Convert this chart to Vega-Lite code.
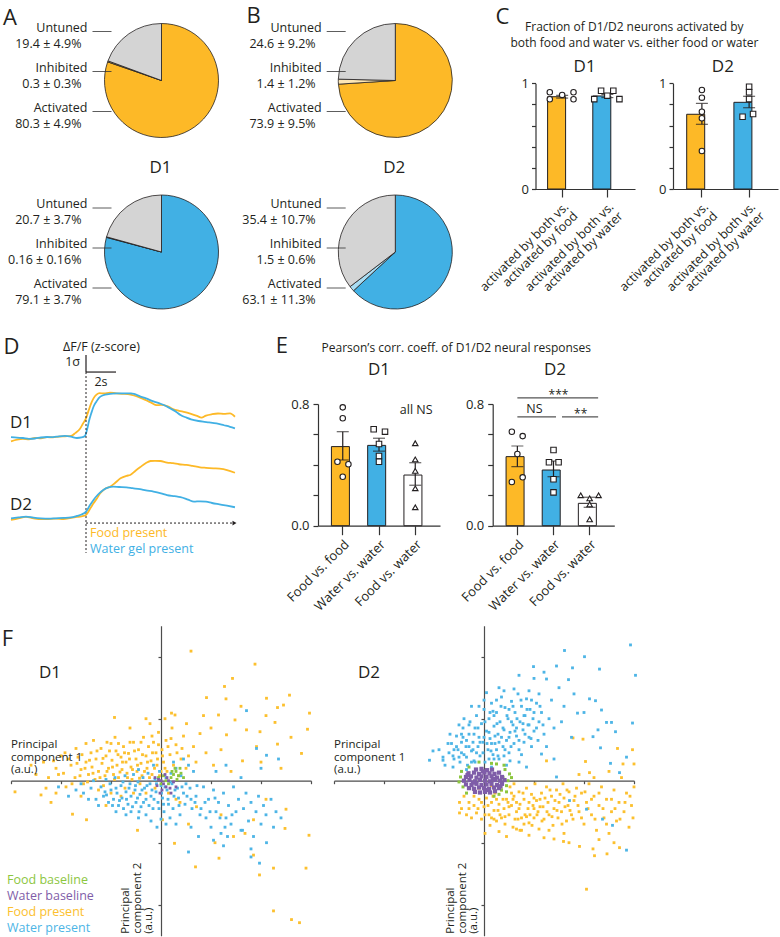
{
"$schema":"https://vega.github.io/schema/vega-lite/v6.json",
"width":780,"height":937,"autosize":"none","padding":0,"background":"white",
"config":{"view":{"stroke":null},"font":"Open Sans",
 "text":{"font":"Open Sans","fontSize":12.5,"color":"#231F20"},
 "axis":{"grid":false,"domainColor":"#333333","tickColor":"#333333","labelColor":"#231F20","labelFont":"Open Sans","labelFontSize":13,"domainWidth":1.2,"tickWidth":1.2}},
"datasets":{
 "traces":[
  {"neuron":"D1","stim":"food","t":-5,"z":-0.2},{"neuron":"D1","stim":"food","t":-4.6,"z":-0.1},{"neuron":"D1","stim":"food","t":-4.2,"z":-0.05},{"neuron":"D1","stim":"food","t":-3.8,"z":-0.08},{"neuron":"D1","stim":"food","t":-3.4,"z":0},{"neuron":"D1","stim":"food","t":-3,"z":-0.02},{"neuron":"D1","stim":"food","t":-2.6,"z":0.05},{"neuron":"D1","stim":"food","t":-2.2,"z":0.04},{"neuron":"D1","stim":"food","t":-1.8,"z":0.08},{"neuron":"D1","stim":"food","t":-1.4,"z":0.1},{"neuron":"D1","stim":"food","t":-1,"z":0.12},{"neuron":"D1","stim":"food","t":-0.7,"z":0.3},{"neuron":"D1","stim":"food","t":-0.4,"z":0.55},{"neuron":"D1","stim":"food","t":-0.2,"z":0.85},{"neuron":"D1","stim":"food","t":0,"z":1.15},{"neuron":"D1","stim":"food","t":0.15,"z":1.55},{"neuron":"D1","stim":"food","t":0.35,"z":2.05},{"neuron":"D1","stim":"food","t":0.5,"z":2.33},{"neuron":"D1","stim":"food","t":0.7,"z":2.55},{"neuron":"D1","stim":"food","t":0.9,"z":2.64},{"neuron":"D1","stim":"food","t":1.2,"z":2.62},{"neuron":"D1","stim":"food","t":1.6,"z":2.67},{"neuron":"D1","stim":"food","t":2,"z":2.63},{"neuron":"D1","stim":"food","t":2.4,"z":2.6},{"neuron":"D1","stim":"food","t":2.8,"z":2.58},{"neuron":"D1","stim":"food","t":3.2,"z":2.5},{"neuron":"D1","stim":"food","t":3.6,"z":2.38},{"neuron":"D1","stim":"food","t":4,"z":2.22},{"neuron":"D1","stim":"food","t":4.4,"z":2.05},{"neuron":"D1","stim":"food","t":4.7,"z":1.93},{"neuron":"D1","stim":"food","t":5,"z":1.95},{"neuron":"D1","stim":"food","t":5.4,"z":1.88},{"neuron":"D1","stim":"food","t":5.8,"z":1.7},{"neuron":"D1","stim":"food","t":6.2,"z":1.6},{"neuron":"D1","stim":"food","t":6.6,"z":1.52},{"neuron":"D1","stim":"food","t":7,"z":1.42},{"neuron":"D1","stim":"food","t":7.4,"z":1.3},{"neuron":"D1","stim":"food","t":7.7,"z":1.2},{"neuron":"D1","stim":"food","t":8,"z":1.32},{"neuron":"D1","stim":"food","t":8.4,"z":1.4},{"neuron":"D1","stim":"food","t":8.8,"z":1.44},{"neuron":"D1","stim":"food","t":9.2,"z":1.42},{"neuron":"D1","stim":"food","t":9.6,"z":1.45},{"neuron":"D1","stim":"food","t":9.93,"z":1.25},
  {"neuron":"D1","stim":"water","t":-5,"z":0.05},{"neuron":"D1","stim":"water","t":-4.6,"z":0.02},{"neuron":"D1","stim":"water","t":-4.2,"z":0},{"neuron":"D1","stim":"water","t":-3.8,"z":-0.05},{"neuron":"D1","stim":"water","t":-3.4,"z":-0.03},{"neuron":"D1","stim":"water","t":-3,"z":0.03},{"neuron":"D1","stim":"water","t":-2.6,"z":0.06},{"neuron":"D1","stim":"water","t":-2.2,"z":0.05},{"neuron":"D1","stim":"water","t":-1.8,"z":0.1},{"neuron":"D1","stim":"water","t":-1.4,"z":0.12},{"neuron":"D1","stim":"water","t":-1,"z":0.08},{"neuron":"D1","stim":"water","t":-0.6,"z":0},{"neuron":"D1","stim":"water","t":-0.3,"z":0.03},{"neuron":"D1","stim":"water","t":-0.07,"z":0.12},{"neuron":"D1","stim":"water","t":0.1,"z":0.6},{"neuron":"D1","stim":"water","t":0.2,"z":1},{"neuron":"D1","stim":"water","t":0.35,"z":1.45},{"neuron":"D1","stim":"water","t":0.5,"z":1.84},{"neuron":"D1","stim":"water","t":0.7,"z":2.15},{"neuron":"D1","stim":"water","t":0.85,"z":2.35},{"neuron":"D1","stim":"water","t":1.1,"z":2.5},{"neuron":"D1","stim":"water","t":1.6,"z":2.59},{"neuron":"D1","stim":"water","t":2,"z":2.62},{"neuron":"D1","stim":"water","t":2.5,"z":2.63},{"neuron":"D1","stim":"water","t":3,"z":2.62},{"neuron":"D1","stim":"water","t":3.2,"z":2.59},{"neuron":"D1","stim":"water","t":3.6,"z":2.45},{"neuron":"D1","stim":"water","t":4,"z":2.33},{"neuron":"D1","stim":"water","t":4.5,"z":2.15},{"neuron":"D1","stim":"water","t":4.9,"z":2.04},{"neuron":"D1","stim":"water","t":5.3,"z":1.9},{"neuron":"D1","stim":"water","t":5.6,"z":1.75},{"neuron":"D1","stim":"water","t":6,"z":1.55},{"neuron":"D1","stim":"water","t":6.3,"z":1.35},{"neuron":"D1","stim":"water","t":6.7,"z":1.2},{"neuron":"D1","stim":"water","t":7,"z":1.1},{"neuron":"D1","stim":"water","t":7.5,"z":1},{"neuron":"D1","stim":"water","t":7.8,"z":0.96},{"neuron":"D1","stim":"water","t":8.2,"z":0.92},{"neuron":"D1","stim":"water","t":8.7,"z":0.86},{"neuron":"D1","stim":"water","t":9.2,"z":0.75},{"neuron":"D1","stim":"water","t":9.6,"z":0.66},{"neuron":"D1","stim":"water","t":9.93,"z":0.57},
  {"neuron":"D2","stim":"food","t":-5,"z":-0.1},{"neuron":"D2","stim":"food","t":-4.5,"z":0},{"neuron":"D2","stim":"food","t":-4,"z":0.08},{"neuron":"D2","stim":"food","t":-3.5,"z":0},{"neuron":"D2","stim":"food","t":-3,"z":-0.05},{"neuron":"D2","stim":"food","t":-2.5,"z":-0.04},{"neuron":"D2","stim":"food","t":-2,"z":-0.02},{"neuron":"D2","stim":"food","t":-1.5,"z":-0.04},{"neuron":"D2","stim":"food","t":-1,"z":0.03},{"neuron":"D2","stim":"food","t":-0.6,"z":0.08},{"neuron":"D2","stim":"food","t":-0.3,"z":0.12},{"neuron":"D2","stim":"food","t":0,"z":0.2},{"neuron":"D2","stim":"food","t":0.3,"z":0.6},{"neuron":"D2","stim":"food","t":0.5,"z":0.88},{"neuron":"D2","stim":"food","t":0.75,"z":1.2},{"neuron":"D2","stim":"food","t":0.95,"z":1.47},{"neuron":"D2","stim":"food","t":1.3,"z":1.75},{"neuron":"D2","stim":"food","t":1.6,"z":1.86},{"neuron":"D2","stim":"food","t":1.9,"z":2.05},{"neuron":"D2","stim":"food","t":2.3,"z":2.35},{"neuron":"D2","stim":"food","t":2.7,"z":2.5},{"neuron":"D2","stim":"food","t":2.95,"z":2.55},{"neuron":"D2","stim":"food","t":3.3,"z":2.8},{"neuron":"D2","stim":"food","t":3.6,"z":3},{"neuron":"D2","stim":"food","t":4,"z":3.25},{"neuron":"D2","stim":"food","t":4.3,"z":3.37},{"neuron":"D2","stim":"food","t":4.6,"z":3.38},{"neuron":"D2","stim":"food","t":4.95,"z":3.37},{"neuron":"D2","stim":"food","t":5.4,"z":3.28},{"neuron":"D2","stim":"food","t":5.8,"z":3.24},{"neuron":"D2","stim":"food","t":6.2,"z":3.18},{"neuron":"D2","stim":"food","t":6.7,"z":3.14},{"neuron":"D2","stim":"food","t":7.1,"z":3.08},{"neuron":"D2","stim":"food","t":7.6,"z":3},{"neuron":"D2","stim":"food","t":8,"z":2.97},{"neuron":"D2","stim":"food","t":8.5,"z":2.94},{"neuron":"D2","stim":"food","t":8.9,"z":2.92},{"neuron":"D2","stim":"food","t":9.4,"z":2.84},{"neuron":"D2","stim":"food","t":9.93,"z":2.68},
  {"neuron":"D2","stim":"water","t":-5,"z":0},{"neuron":"D2","stim":"water","t":-4.5,"z":0.05},{"neuron":"D2","stim":"water","t":-4,"z":0.1},{"neuron":"D2","stim":"water","t":-3.5,"z":0.04},{"neuron":"D2","stim":"water","t":-3,"z":0},{"neuron":"D2","stim":"water","t":-2.5,"z":-0.02},{"neuron":"D2","stim":"water","t":-2,"z":0},{"neuron":"D2","stim":"water","t":-1.5,"z":0.02},{"neuron":"D2","stim":"water","t":-1,"z":0.05},{"neuron":"D2","stim":"water","t":-0.6,"z":0.14},{"neuron":"D2","stim":"water","t":-0.3,"z":0.22},{"neuron":"D2","stim":"water","t":0,"z":0.39},{"neuron":"D2","stim":"water","t":0.25,"z":0.75},{"neuron":"D2","stim":"water","t":0.5,"z":1.08},{"neuron":"D2","stim":"water","t":0.8,"z":1.4},{"neuron":"D2","stim":"water","t":1.15,"z":1.67},{"neuron":"D2","stim":"water","t":1.5,"z":1.82},{"neuron":"D2","stim":"water","t":1.82,"z":1.86},{"neuron":"D2","stim":"water","t":2.2,"z":1.84},{"neuron":"D2","stim":"water","t":2.7,"z":1.82},{"neuron":"D2","stim":"water","t":3.1,"z":1.77},{"neuron":"D2","stim":"water","t":3.6,"z":1.71},{"neuron":"D2","stim":"water","t":4,"z":1.64},{"neuron":"D2","stim":"water","t":4.5,"z":1.57},{"neuron":"D2","stim":"water","t":5,"z":1.47},{"neuron":"D2","stim":"water","t":5.4,"z":1.37},{"neuron":"D2","stim":"water","t":5.9,"z":1.3},{"neuron":"D2","stim":"water","t":6.3,"z":1.24},{"neuron":"D2","stim":"water","t":6.8,"z":1.1},{"neuron":"D2","stim":"water","t":7.2,"z":0.98},{"neuron":"D2","stim":"water","t":7.6,"z":1},{"neuron":"D2","stim":"water","t":8,"z":0.98},{"neuron":"D2","stim":"water","t":8.4,"z":0.9},{"neuron":"D2","stim":"water","t":8.9,"z":0.82},{"neuron":"D2","stim":"water","t":9.4,"z":0.74},{"neuron":"D2","stim":"water","t":9.93,"z":0.65}
 ],
 "f1food":[{"pc1":-1.95,"pc2":0.12},{"pc1":-1.8,"pc2":0.25},{"pc1":-1.72,"pc2":0.05},{"pc1":-1.66,"pc2":0.38},{"pc1":-1.6,"pc2":0.18},{"pc1":-1.55,"pc2":-0.05},{"pc1":-1.5,"pc2":0.3},{"pc1":-1.45,"pc2":0.1},{"pc1":-1.4,"pc2":0.45},{"pc1":-1.38,"pc2":0.22},{"pc1":-1.32,"pc2":0.02},{"pc1":-1.3,"pc2":0.35},{"pc1":-1.25,"pc2":0.15},{"pc1":-1.2,"pc2":0.52},{"pc1":-1.18,"pc2":0.28},{"pc1":-1.12,"pc2":0.08},{"pc1":-1.1,"pc2":0.4},{"pc1":-1.05,"pc2":0.2},{"pc1":-1,"pc2":0.6},{"pc1":-0.98,"pc2":0.33},{"pc1":-0.95,"pc2":0.1},{"pc1":-0.9,"pc2":0.48},{"pc1":-0.88,"pc2":0.25},{"pc1":-0.85,"pc2":0.05},{"pc1":-0.8,"pc2":0.38},{"pc1":-0.78,"pc2":0.18},{"pc1":-0.75,"pc2":0.55},{"pc1":-0.7,"pc2":0.3},{"pc1":-0.68,"pc2":0.12},{"pc1":-0.65,"pc2":0.44},{"pc1":-0.6,"pc2":0.22},{"pc1":-0.58,"pc2":0.02},{"pc1":-0.55,"pc2":0.62},{"pc1":-0.5,"pc2":0.35},{"pc1":-0.48,"pc2":0.15},{"pc1":-0.45,"pc2":0.5},{"pc1":-0.4,"pc2":0.28},{"pc1":-0.38,"pc2":0.08},{"pc1":-0.35,"pc2":0.7},{"pc1":-0.3,"pc2":0.4},{"pc1":-0.28,"pc2":0.2},{"pc1":-0.25,"pc2":0.55},{"pc1":-0.2,"pc2":0.32},{"pc1":-0.18,"pc2":0.1},{"pc1":-0.15,"pc2":0.62},{"pc1":-0.1,"pc2":0.45},{"pc1":-0.08,"pc2":0.25},{"pc1":-0.05,"pc2":0.78},{"pc1":0.02,"pc2":0.5},{"pc1":0.05,"pc2":0.3},{"pc1":0.1,"pc2":0.65},{"pc1":0.12,"pc2":0.15},{"pc1":0.18,"pc2":0.42},{"pc1":0.22,"pc2":0.85},{"pc1":0.25,"pc2":0.25},{"pc1":0.3,"pc2":0.58},{"pc1":0.35,"pc2":0.08},{"pc1":0.4,"pc2":0.35},{"pc1":0.45,"pc2":0.72},{"pc1":0.5,"pc2":0.2},{"pc1":-2.1,"pc2":0.2},{"pc1":-2.25,"pc2":0.05},{"pc1":-2.35,"pc2":0.3},{"pc1":-1.9,"pc2":-0.1},{"pc1":-2,"pc2":0.4},{"pc1":-1.7,"pc2":0.52},{"pc1":-1.35,"pc2":0.65},{"pc1":-1.15,"pc2":-0.08},{"pc1":-0.92,"pc2":0.7},{"pc1":-0.62,"pc2":0.85},{"pc1":-0.42,"pc2":-0.05},{"pc1":-0.22,"pc2":0.92},{"pc1":-0.72,"pc2":-0.12},{"pc1":-1.5,"pc2":0.6},{"pc1":0.08,"pc2":1},{"pc1":-0.3,"pc2":1},{"pc1":-0.55,"pc2":-0.2},{"pc1":-1.25,"pc2":-0.15},{"pc1":-0.12,"pc2":-0.12},{"pc1":0,"pc2":0.15},{"pc1":0.6,"pc2":2.09},{"pc1":1.88,"pc2":1.88},{"pc1":1.43,"pc2":1.65},{"pc1":1.27,"pc2":1.52},{"pc1":0.91,"pc2":1.34},{"pc1":1.3,"pc2":1.32},{"pc1":2.11,"pc2":1.33},{"pc1":2.57,"pc2":1.38},{"pc1":2.45,"pc2":1.22},{"pc1":2.33,"pc2":1.18},{"pc1":2.97,"pc2":1.09},{"pc1":2.93,"pc2":0.83},{"pc1":2.81,"pc2":0.44},{"pc1":2.33,"pc2":0.59},{"pc1":2.28,"pc2":0.94},{"pc1":-0.93,"pc2":1.02},{"pc1":0.21,"pc2":1.09},{"pc1":0.28,"pc2":1.06},{"pc1":0.51,"pc2":0.92},{"pc1":1.15,"pc2":1.06},{"pc1":1.48,"pc2":0.98},{"pc1":1.71,"pc2":0.82},{"pc1":1.98,"pc2":0.79},{"pc1":1.91,"pc2":0.55},{"pc1":1.63,"pc2":0.32},{"pc1":1.31,"pc2":0.74},{"pc1":0.78,"pc2":0.76},{"pc1":0.65,"pc2":0.55},{"pc1":0.9,"pc2":0.45},{"pc1":1.05,"pc2":0.25},{"pc1":1.2,"pc2":0.5},{"pc1":1.4,"pc2":0.15},{"pc1":0.85,"pc2":1.05},{"pc1":1.6,"pc2":1.2},{"pc1":2.1,"pc2":1.05},{"pc1":2.6,"pc2":0.7},{"pc1":2.4,"pc2":0.2},{"pc1":2,"pc2":0.3},{"pc1":0.7,"pc2":0.3},{"pc1":1,"pc2":0.85},{"pc1":-2.92,"pc2":-0.18},{"pc1":-2.4,"pc2":-0.23},{"pc1":-1.77,"pc2":-0.54},{"pc1":-1.49,"pc2":-0.63},{"pc1":-0.47,"pc2":-0.8},{"pc1":0.03,"pc2":-0.63},{"pc1":0.27,"pc2":-1.01},{"pc1":0.69,"pc2":-1.39},{"pc1":1.16,"pc2":-1.25},{"pc1":1.85,"pc2":-1.2},{"pc1":1.97,"pc2":-1.52},{"pc1":2.25,"pc2":-1.41},{"pc1":2.48,"pc2":-0.77},{"pc1":2.5,"pc2":-0.46},{"pc1":2.96,"pc2":-0.88},{"pc1":2.9,"pc2":-1.41},{"pc1":2.25,"pc2":-2.1},{"pc1":2.61,"pc2":-2.24},{"pc1":2.77,"pc2":-2.29},{"pc1":1.68,"pc2":-0.85},{"pc1":1.08,"pc2":-1},{"pc1":1.45,"pc2":-0.9},{"pc1":1.85,"pc2":-0.63},{"pc1":0.38,"pc2":-0.35},{"pc1":0.71,"pc2":-0.42},{"pc1":1.2,"pc2":-0.55},{"pc1":0.55,"pc2":-0.7},{"pc1":-2.2,"pc2":-0.35},{"pc1":-1.1,"pc2":-0.4},{"pc1":2.1,"pc2":-0.3},
  {"pc1":-1.62,"pc2":0.08},{"pc1":-1.58,"pc2":0.42},{"pc1":-1.52,"pc2":0.2},{"pc1":-1.47,"pc2":-0.02},{"pc1":-1.43,"pc2":0.33},{"pc1":-1.36,"pc2":0.12},{"pc1":-1.28,"pc2":0.48},{"pc1":-1.22,"pc2":0.05},{"pc1":-1.16,"pc2":0.36},{"pc1":-1.08,"pc2":0.15},{"pc1":-1.03,"pc2":0.48},{"pc1":-0.97,"pc2":0.22},{"pc1":-0.93,"pc2":0.02},{"pc1":-0.86,"pc2":0.42},{"pc1":-0.82,"pc2":0.14},{"pc1":-0.77,"pc2":0.3},{"pc1":-0.73,"pc2":0.45},{"pc1":-0.67,"pc2":0.05},{"pc1":-0.63,"pc2":0.35},{"pc1":-0.57,"pc2":0.18},{"pc1":-0.53,"pc2":0.48},{"pc1":-0.47,"pc2":0.25},{"pc1":-0.43,"pc2":0.04},{"pc1":-0.37,"pc2":0.42},{"pc1":-0.33,"pc2":0.15},{"pc1":-0.27,"pc2":0.3},{"pc1":-0.23,"pc2":0.05},{"pc1":-0.17,"pc2":0.45},{"pc1":-0.13,"pc2":0.2},{"pc1":-0.07,"pc2":0.35},{"pc1":-0.03,"pc2":0.08},{"pc1":0.03,"pc2":0.4},{"pc1":0.08,"pc2":0.2},{"pc1":0.14,"pc2":0.55},{"pc1":-1.85,"pc2":0.35},{"pc1":-1.78,"pc2":-0.05},{"pc1":-2.05,"pc2":0.1},{"pc1":-2.15,"pc2":0.32},{"pc1":-1.92,"pc2":0.45},{"pc1":-1.68,"pc2":0.28},{"pc1":-0.62,"pc2":0.62},{"pc1":-0.85,"pc2":0.6},{"pc1":-1.08,"pc2":0.62},{"pc1":-0.4,"pc2":0.62},{"pc1":-0.18,"pc2":0.72},{"pc1":-0.05,"pc2":0.58},{"pc1":0.2,"pc2":0.68},{"pc1":0.32,"pc2":0.45},{"pc1":0.42,"pc2":0.52},{"pc1":0.55,"pc2":0.4},{"pc1":-2.5,"pc2":0.1},{"pc1":-2.6,"pc2":0.25},{"pc1":-2.3,"pc2":-0.12},{"pc1":-2.1,"pc2":-0.2},{"pc1":-1.6,"pc2":-0.25},{"pc1":-1,"pc2":-0.2},{"pc1":-0.8,"pc2":-0.25},{"pc1":-0.3,"pc2":-0.2},{"pc1":0.15,"pc2":-0.2},{"pc1":0.3,"pc2":-0.3}],
 "f1water":[{"pc1":-1.2,"pc2":-0.1},{"pc1":-1.15,"pc2":-0.25},{"pc1":-1.1,"pc2":0.02},{"pc1":-1.05,"pc2":-0.35},{"pc1":-1,"pc2":-0.15},{"pc1":-0.95,"pc2":-0.3},{"pc1":-0.92,"pc2":0.05},{"pc1":-0.88,"pc2":-0.2},{"pc1":-0.85,"pc2":-0.4},{"pc1":-0.8,"pc2":-0.08},{"pc1":-0.78,"pc2":-0.28},{"pc1":-0.72,"pc2":0.08},{"pc1":-0.7,"pc2":-0.18},{"pc1":-0.66,"pc2":-0.38},{"pc1":-0.62,"pc2":-0.05},{"pc1":-0.6,"pc2":-0.25},{"pc1":-0.55,"pc2":0.1},{"pc1":-0.52,"pc2":-0.15},{"pc1":-0.5,"pc2":-0.35},{"pc1":-0.46,"pc2":-0.02},{"pc1":-0.42,"pc2":-0.22},{"pc1":-0.4,"pc2":-0.42},{"pc1":-0.36,"pc2":0.05},{"pc1":-0.33,"pc2":-0.12},{"pc1":-0.3,"pc2":-0.3},{"pc1":-0.26,"pc2":0.12},{"pc1":-0.22,"pc2":-0.05},{"pc1":-0.2,"pc2":-0.25},{"pc1":-0.16,"pc2":-0.45},{"pc1":-0.12,"pc2":0.02},{"pc1":-0.1,"pc2":-0.18},{"pc1":-0.06,"pc2":-0.35},{"pc1":-0.03,"pc2":0.15},{"pc1":0,"pc2":-0.08},{"pc1":0.03,"pc2":-0.28},{"pc1":0.06,"pc2":-0.5},{"pc1":0.1,"pc2":0.05},{"pc1":0.12,"pc2":-0.15},{"pc1":0.15,"pc2":-0.38},{"pc1":0.2,"pc2":0.12},{"pc1":0.22,"pc2":-0.05},{"pc1":0.26,"pc2":-0.25},{"pc1":0.3,"pc2":0.2},{"pc1":0.33,"pc2":-0.12},{"pc1":0.36,"pc2":-0.4},{"pc1":0.4,"pc2":0.08},{"pc1":0.45,"pc2":-0.2},{"pc1":0.5,"pc2":-0.05},{"pc1":0.55,"pc2":0.25},{"pc1":0.6,"pc2":-0.3},{"pc1":-1.4,"pc2":-0.12},{"pc1":-1.55,"pc2":-0.2},{"pc1":-1.3,"pc2":-0.3},{"pc1":-1.35,"pc2":0},{"pc1":-0.9,"pc2":-0.5},{"pc1":-0.6,"pc2":-0.5},{"pc1":-0.3,"pc2":-0.55},{"pc1":0,"pc2":-0.62},{"pc1":0.25,"pc2":0.3},{"pc1":0.45,"pc2":0.35},{"pc1":-0.15,"pc2":0.25},{"pc1":-0.45,"pc2":0.18},{"pc1":-0.75,"pc2":-0.45},{"pc1":-1.7,"pc2":-0.15},{"pc1":-1.85,"pc2":-0.25},{"pc1":-2.05,"pc2":-0.1},{"pc1":0.18,"pc2":-0.6},{"pc1":-0.08,"pc2":-0.75},{"pc1":0.38,"pc2":-0.55},{"pc1":0.65,"pc2":0.15},{"pc1":0.7,"pc2":-0.25},{"pc1":0.8,"pc2":-0.45},{"pc1":0.85,"pc2":-0.1},{"pc1":0.9,"pc2":-0.6},{"pc1":0.95,"pc2":-0.3},{"pc1":1,"pc2":-0.75},{"pc1":1.05,"pc2":-0.15},{"pc1":1.1,"pc2":-0.5},{"pc1":1.15,"pc2":-0.35},{"pc1":1.2,"pc2":-0.85},{"pc1":1.25,"pc2":-0.2},{"pc1":1.3,"pc2":-0.6},{"pc1":1.35,"pc2":-0.4},{"pc1":1.4,"pc2":-0.7},{"pc1":1.45,"pc2":-0.1},{"pc1":1.5,"pc2":-0.5},{"pc1":1.55,"pc2":-0.3},{"pc1":1.6,"pc2":-0.8},{"pc1":1.65,"pc2":-0.45},{"pc1":1.7,"pc2":-0.2},{"pc1":1.75,"pc2":-0.65},{"pc1":1.8,"pc2":-0.35},{"pc1":1.85,"pc2":-0.9},{"pc1":1.9,"pc2":-0.5},{"pc1":1.95,"pc2":-0.25},{"pc1":2,"pc2":-0.7},{"pc1":2.05,"pc2":-0.4},{"pc1":2.1,"pc2":-0.55},{"pc1":2.2,"pc2":-0.3},{"pc1":2.25,"pc2":-0.75},{"pc1":2.3,"pc2":-0.5},{"pc1":2.4,"pc2":-0.6},{"pc1":1.1,"pc2":0.15},{"pc1":1.3,"pc2":0.25},{"pc1":1.6,"pc2":0.05},{"pc1":0.75,"pc2":-0.9},{"pc1":0.6,"pc2":-0.75},{"pc1":1.25,"pc2":-1.05},{"pc1":1.8,"pc2":-1.1},{"pc1":1.71,"pc2":1.13},{"pc1":1.91,"pc2":0.52},{"pc1":2.11,"pc2":0.41},{"pc1":0.55,"pc2":-1.15},{"pc1":1.05,"pc2":-0.96},{"pc1":1.33,"pc2":-0.9},{"pc1":1.97,"pc2":-1.33},{"pc1":1.8,"pc2":-1.23},{"pc1":2.11,"pc2":-1},{"pc1":1.63,"pc2":-0.8},{"pc1":-1.09,"pc2":-0.23},{"pc1":2.35,"pc2":0.35},{"pc1":2,"pc2":0.2},
  {"pc1":-1.12,"pc2":-0.18},{"pc1":-1.02,"pc2":-0.05},{"pc1":-0.97,"pc2":-0.4},{"pc1":-0.9,"pc2":-0.12},{"pc1":-0.83,"pc2":-0.32},{"pc1":-0.76,"pc2":-0.02},{"pc1":-0.69,"pc2":-0.3},{"pc1":-0.64,"pc2":-0.12},{"pc1":-0.57,"pc2":-0.42},{"pc1":-0.51,"pc2":-0.08},{"pc1":-0.47,"pc2":-0.28},{"pc1":-0.44,"pc2":-0.5},{"pc1":-0.38,"pc2":-0.15},{"pc1":-0.35,"pc2":-0.35},{"pc1":-0.28,"pc2":-0.08},{"pc1":-0.24,"pc2":-0.4},{"pc1":-0.18,"pc2":-0.15},{"pc1":-0.14,"pc2":-0.3},{"pc1":-0.09,"pc2":-0.05},{"pc1":-0.04,"pc2":-0.45},{"pc1":0.01,"pc2":-0.2},{"pc1":0.05,"pc2":-0.38},{"pc1":0.08,"pc2":-0.1},{"pc1":0.14,"pc2":-0.3},{"pc1":0.18,"pc2":-0.02},{"pc1":0.24,"pc2":-0.45},{"pc1":0.28,"pc2":-0.15},{"pc1":0.35,"pc2":-0.28},{"pc1":0.42,"pc2":-0.1},{"pc1":0.48,"pc2":-0.38},{"pc1":0.52,"pc2":-0.25},{"pc1":0.58,"pc2":-0.12},{"pc1":0.62,"pc2":-0.45},{"pc1":0.68,"pc2":-0.35},{"pc1":0.72,"pc2":-0.08},{"pc1":0.78,"pc2":-0.55},{"pc1":0.88,"pc2":-0.35},{"pc1":0.98,"pc2":-0.5},{"pc1":1.08,"pc2":-0.28},{"pc1":1.18,"pc2":-0.6},{"pc1":-1.25,"pc2":-0.4},{"pc1":-1.45,"pc2":-0.3},{"pc1":-1.6,"pc2":-0.05},{"pc1":-0.7,"pc2":-0.55},{"pc1":-0.45,"pc2":-0.6},{"pc1":-0.2,"pc2":-0.65},{"pc1":0.1,"pc2":-0.7},{"pc1":0.3,"pc2":-0.7},{"pc1":1.42,"pc2":-0.55},{"pc1":1.28,"pc2":-0.75}],
 "f1fb":[{"pc1":0.25,"pc2":0.1},{"pc1":0.3,"pc2":0.15},{"pc1":0.35,"pc2":0.08},{"pc1":0.4,"pc2":0.12},{"pc1":0.28,"pc2":0.2},{"pc1":0.2,"pc2":0.05},{"pc1":0.1,"pc2":0},{"pc1":0.05,"pc2":0.08},{"pc1":-0.05,"pc2":0.05},{"pc1":0.15,"pc2":-0.05},{"pc1":0.32,"pc2":0.02},{"pc1":0.38,"pc2":0.2},{"pc1":0.45,"pc2":0.05},{"pc1":0.22,"pc2":0.15},{"pc1":0,"pc2":-0.05}],
 "f1wb":[{"pc1":0,"pc2":0},{"pc1":0.05,"pc2":-0.05},{"pc1":-0.05,"pc2":0.02},{"pc1":0.1,"pc2":-0.1},{"pc1":0.12,"pc2":0.05},{"pc1":-0.08,"pc2":-0.08},{"pc1":0.18,"pc2":-0.12},{"pc1":0.25,"pc2":-0.02},{"pc1":0.08,"pc2":0.1},{"pc1":0.02,"pc2":-0.15},{"pc1":0.15,"pc2":0},{"pc1":-0.12,"pc2":0.05},{"pc1":0.2,"pc2":-0.2},{"pc1":0.3,"pc2":-0.1},{"pc1":-0.02,"pc2":-0.2}],
 "f2water":[{"pc1":-0.7,"pc2":0.45},{"pc1":-0.65,"pc2":0.6},{"pc1":-0.6,"pc2":0.35},{"pc1":-0.55,"pc2":0.72},{"pc1":-0.52,"pc2":0.5},{"pc1":-0.48,"pc2":0.3},{"pc1":-0.45,"pc2":0.62},{"pc1":-0.42,"pc2":0.85},{"pc1":-0.4,"pc2":0.42},{"pc1":-0.36,"pc2":0.55},{"pc1":-0.33,"pc2":0.25},{"pc1":-0.3,"pc2":0.75},{"pc1":-0.28,"pc2":0.95},{"pc1":-0.25,"pc2":0.48},{"pc1":-0.22,"pc2":0.62},{"pc1":-0.2,"pc2":0.32},{"pc1":-0.18,"pc2":0.85},{"pc1":-0.15,"pc2":1.05},{"pc1":-0.12,"pc2":0.55},{"pc1":-0.1,"pc2":0.7},{"pc1":-0.08,"pc2":0.4},{"pc1":-0.05,"pc2":0.92},{"pc1":-0.02,"pc2":0.62},{"pc1":0,"pc2":1.15},{"pc1":0.02,"pc2":0.3},{"pc1":0.05,"pc2":0.8},{"pc1":0.08,"pc2":0.5},{"pc1":0.1,"pc2":1},{"pc1":0.12,"pc2":0.68},{"pc1":0.15,"pc2":1.25},{"pc1":0.18,"pc2":0.42},{"pc1":0.2,"pc2":0.88},{"pc1":0.22,"pc2":0.6},{"pc1":0.25,"pc2":1.1},{"pc1":0.28,"pc2":0.75},{"pc1":0.3,"pc2":0.35},{"pc1":0.32,"pc2":0.95},{"pc1":0.35,"pc2":1.35},{"pc1":0.38,"pc2":0.55},{"pc1":0.4,"pc2":0.82},{"pc1":0.42,"pc2":1.18},{"pc1":0.45,"pc2":0.65},{"pc1":0.48,"pc2":1},{"pc1":0.5,"pc2":0.45},{"pc1":0.52,"pc2":0.78},{"pc1":0.55,"pc2":1.28},{"pc1":0.58,"pc2":0.9},{"pc1":0.6,"pc2":0.6},{"pc1":0.62,"pc2":1.1},{"pc1":0.65,"pc2":0.72},{"pc1":0.68,"pc2":1.4},{"pc1":0.7,"pc2":0.5},{"pc1":0.72,"pc2":0.95},{"pc1":0.75,"pc2":1.2},{"pc1":0.78,"pc2":0.82},{"pc1":0.8,"pc2":0.62},{"pc1":0.82,"pc2":1.05},{"pc1":0.85,"pc2":1.32},{"pc1":0.88,"pc2":0.9},{"pc1":0.9,"pc2":0.7},{"pc1":0.92,"pc2":1.15},{"pc1":0.95,"pc2":0.55},{"pc1":0.98,"pc2":1},{"pc1":1,"pc2":0.8},{"pc1":1.05,"pc2":1.25},{"pc1":1.08,"pc2":0.65},{"pc1":1.1,"pc2":0.95},{"pc1":1.15,"pc2":1.1},{"pc1":1.2,"pc2":0.75},{"pc1":-0.82,"pc2":0.38},{"pc1":-0.9,"pc2":0.5},{"pc1":-0.78,"pc2":0.25},{"pc1":-0.62,"pc2":0.22},{"pc1":-0.35,"pc2":0.18},{"pc1":-0.05,"pc2":0.2},{"pc1":0.15,"pc2":0.22},{"pc1":-0.4,"pc2":1},{"pc1":-0.1,"pc2":1.2},{"pc1":0.3,"pc2":1.5},{"pc1":0.6,"pc2":1.48},{"pc1":0.9,"pc2":1.45},{"pc1":0.05,"pc2":1.42},{"pc1":-0.25,"pc2":1.2},{"pc1":0.45,"pc2":0.25},{"pc1":0.7,"pc2":0.3},{"pc1":1.3,"pc2":1},{"pc1":1.25,"pc2":0.55},{"pc1":1.35,"pc2":1.3},{"pc1":1.4,"pc2":0.85},{"pc1":-0.5,"pc2":0.9},{"pc1":-0.68,"pc2":0.75},{"pc1":0.25,"pc2":0.5},{"pc1":0.1,"pc2":0.35},{"pc1":-0.15,"pc2":0.45},{"pc1":0.35,"pc2":0.7},{"pc1":0.55,"pc2":0.95},{"pc1":0.15,"pc2":0.6},{"pc1":-0.3,"pc2":0.55},{"pc1":0.5,"pc2":1.15},{"pc1":0.8,"pc2":1.05},{"pc1":0.2,"pc2":1.05},{"pc1":-0.2,"pc2":0.75},{"pc1":0.65,"pc2":0.85},{"pc1":0.4,"pc2":0.4},{"pc1":0,"pc2":0.7},{"pc1":-0.45,"pc2":0.45},{"pc1":0.95,"pc2":1.3},{"pc1":1.1,"pc2":1.4},{"pc1":0.25,"pc2":1.3},{"pc1":-0.55,"pc2":0.55},{"pc1":2.93,"pc2":2.19},{"pc1":3.03,"pc2":1.7},{"pc1":1.61,"pc2":2.1},{"pc1":2.01,"pc2":2},{"pc1":0.99,"pc2":1.84},{"pc1":2.31,"pc2":1.8},{"pc1":1.77,"pc2":1.82},{"pc1":1.25,"pc2":1.64},{"pc1":1.69,"pc2":1.63},{"pc1":2.11,"pc2":1.32},{"pc1":2.23,"pc2":1.29},{"pc1":2.35,"pc2":1.14},{"pc1":1.87,"pc2":1.09},{"pc1":2.45,"pc2":0.94},{"pc1":2.55,"pc2":0.94},{"pc1":2.97,"pc2":0.93},{"pc1":2.63,"pc2":0.79},{"pc1":2.28,"pc2":0.82},{"pc1":2.18,"pc2":0.71},{"pc1":2.33,"pc2":0.53},{"pc1":2.85,"pc2":0.38},{"pc1":2.53,"pc2":0.28},{"pc1":2.71,"pc2":0.13},{"pc1":1.45,"pc2":0.06},{"pc1":1.71,"pc2":-0.32},{"pc1":2.05,"pc2":-0.46},{"pc1":2.37,"pc2":-0.62},{"pc1":2.57,"pc2":-0.72},{"pc1":2.85,"pc2":-1.12},{"pc1":-1.09,"pc2":0.33},{"pc1":-1.02,"pc2":0.48},{"pc1":-0.82,"pc2":0.33},{"pc1":1.15,"pc2":0.43},{"pc1":0.85,"pc2":0.22},{"pc1":1.5,"pc2":1.5},{"pc1":1.6,"pc2":1.2},{"pc1":1.8,"pc2":1.4},{"pc1":1.45,"pc2":1.85},{"pc1":1,"pc2":1.65},{"pc1":0.7,"pc2":1.7},{"pc1":1.55,"pc2":0.95},{"pc1":1.75,"pc2":0.7},{"pc1":2,"pc2":1.1},{"pc1":1.4,"pc2":0.35},{"pc1":1.2,"pc2":1.75},
  {"pc1":-0.6,"pc2":0.5},{"pc1":-0.5,"pc2":0.38},{"pc1":-0.42,"pc2":0.7},{"pc1":-0.35,"pc2":0.38},{"pc1":-0.3,"pc2":0.9},{"pc1":-0.22,"pc2":0.5},{"pc1":-0.18,"pc2":0.3},{"pc1":-0.12,"pc2":0.85},{"pc1":-0.08,"pc2":0.62},{"pc1":-0.02,"pc2":0.45},{"pc1":0.02,"pc2":0.95},{"pc1":0.06,"pc2":0.6},{"pc1":0.1,"pc2":0.78},{"pc1":0.14,"pc2":0.48},{"pc1":0.18,"pc2":1.12},{"pc1":0.22,"pc2":0.72},{"pc1":0.26,"pc2":0.92},{"pc1":0.3,"pc2":0.62},{"pc1":0.34,"pc2":1.2},{"pc1":0.38,"pc2":0.85},{"pc1":0.42,"pc2":0.5},{"pc1":0.46,"pc2":1.05},{"pc1":0.5,"pc2":0.7},{"pc1":0.54,"pc2":0.55},{"pc1":0.58,"pc2":1.2},{"pc1":0.62,"pc2":0.8},{"pc1":0.66,"pc2":1},{"pc1":0.7,"pc2":0.65},{"pc1":0.74,"pc2":1.3},{"pc1":0.78,"pc2":0.92},{"pc1":0.82,"pc2":0.75},{"pc1":0.86,"pc2":1.15},{"pc1":0.9,"pc2":0.9},{"pc1":0.94,"pc2":0.68},{"pc1":1,"pc2":1.1},{"pc1":1.05,"pc2":0.85},{"pc1":1.12,"pc2":1.2},{"pc1":1.18,"pc2":0.9},{"pc1":-0.72,"pc2":0.6},{"pc1":-0.62,"pc2":0.4},{"pc1":0,"pc2":1.3},{"pc1":0.4,"pc2":1.45},{"pc1":-0.35,"pc2":0.65},{"pc1":0.12,"pc2":1.1},{"pc1":0.28,"pc2":0.4},{"pc1":0.52,"pc2":0.32},{"pc1":0.75,"pc2":0.42},{"pc1":-0.25,"pc2":0.3},{"pc1":-0.45,"pc2":0.75},{"pc1":0.2,"pc2":0.35}],
 "f2food":[{"pc1":-0.45,"pc2":-0.45},{"pc1":-0.35,"pc2":-0.55},{"pc1":-0.3,"pc2":-0.35},{"pc1":-0.25,"pc2":-0.6},{"pc1":-0.2,"pc2":-0.4},{"pc1":-0.15,"pc2":-0.52},{"pc1":-0.1,"pc2":-0.3},{"pc1":-0.05,"pc2":-0.62},{"pc1":0,"pc2":-0.42},{"pc1":0.05,"pc2":-0.28},{"pc1":0.1,"pc2":-0.55},{"pc1":0.12,"pc2":-0.72},{"pc1":0.15,"pc2":-0.35},{"pc1":0.2,"pc2":-0.48},{"pc1":0.22,"pc2":-0.2},{"pc1":0.25,"pc2":-0.65},{"pc1":0.3,"pc2":-0.38},{"pc1":0.32,"pc2":-0.55},{"pc1":0.35,"pc2":-0.15},{"pc1":0.4,"pc2":-0.45},{"pc1":0.42,"pc2":-0.7},{"pc1":0.45,"pc2":-0.3},{"pc1":0.5,"pc2":-0.55},{"pc1":0.52,"pc2":-0.1},{"pc1":0.55,"pc2":-0.4},{"pc1":0.58,"pc2":-0.75},{"pc1":0.6,"pc2":-0.25},{"pc1":0.65,"pc2":-0.5},{"pc1":0.68,"pc2":-0.62},{"pc1":0.7,"pc2":-0.18},{"pc1":0.72,"pc2":-0.38},{"pc1":0.75,"pc2":-0.8},{"pc1":0.8,"pc2":-0.3},{"pc1":0.82,"pc2":-0.55},{"pc1":0.85,"pc2":-0.12},{"pc1":0.88,"pc2":-0.45},{"pc1":0.9,"pc2":-0.68},{"pc1":0.95,"pc2":-0.22},{"pc1":0.98,"pc2":-0.4},{"pc1":1,"pc2":-0.6},{"pc1":1.02,"pc2":-0.05},{"pc1":1.05,"pc2":-0.32},{"pc1":1.08,"pc2":-0.5},{"pc1":1.1,"pc2":-0.78},{"pc1":1.15,"pc2":-0.2},{"pc1":1.18,"pc2":-0.42},{"pc1":1.2,"pc2":-0.62},{"pc1":1.25,"pc2":-0.1},{"pc1":1.28,"pc2":-0.35},{"pc1":1.3,"pc2":-0.55},{"pc1":1.35,"pc2":-0.25},{"pc1":1.38,"pc2":-0.72},{"pc1":1.4,"pc2":-0.45},{"pc1":1.45,"pc2":-0.15},{"pc1":1.48,"pc2":-0.6},{"pc1":1.5,"pc2":-0.35},{"pc1":1.55,"pc2":-0.5},{"pc1":1.58,"pc2":-0.05},{"pc1":1.6,"pc2":-0.28},{"pc1":1.65,"pc2":-0.65},{"pc1":1.68,"pc2":-0.4},{"pc1":1.7,"pc2":-0.18},{"pc1":1.75,"pc2":-0.55},{"pc1":1.8,"pc2":-0.32},{"pc1":1.85,"pc2":-0.12},{"pc1":0.15,"pc2":-0.08},{"pc1":0.6,"pc2":-0.05},{"pc1":-0.1,"pc2":-0.12},{"pc1":0.3,"pc2":-0.82},{"pc1":0.9,"pc2":-0.88},{"pc1":1.6,"pc2":-0.85},{"pc1":0.45,"pc2":-0.9},{"pc1":1.2,"pc2":-0.92},{"pc1":-0.4,"pc2":-0.25},{"pc1":0.02,"pc2":-0.85},{"pc1":0.75,"pc2":-0.6},{"pc1":0.55,"pc2":-0.2},{"pc1":1,"pc2":-0.45},{"pc1":0.35,"pc2":-0.6},{"pc1":0.15,"pc2":-0.6},{"pc1":1.3,"pc2":-0.8},{"pc1":0.8,"pc2":-0.7},{"pc1":0.65,"pc2":-0.35},{"pc1":1.12,"pc2":-0.3},{"pc1":0.25,"pc2":-0.3},{"pc1":0.48,"pc2":-0.35},{"pc1":0.92,"pc2":-0.55},{"pc1":1.9,"pc2":-0.5},{"pc1":1.95,"pc2":-0.2},{"pc1":2,"pc2":-0.7},{"pc1":2.05,"pc2":-0.35},{"pc1":2.1,"pc2":-0.05},{"pc1":2.15,"pc2":-0.55},{"pc1":2.2,"pc2":-0.25},{"pc1":2.25,"pc2":-0.8},{"pc1":2.3,"pc2":-0.4},{"pc1":2.35,"pc2":-0.1},{"pc1":2.4,"pc2":-0.6},{"pc1":2.45,"pc2":-0.3},{"pc1":2.5,"pc2":-0.85},{"pc1":2.55,"pc2":-0.5},{"pc1":2.6,"pc2":-0.15},{"pc1":2.65,"pc2":-0.65},{"pc1":2.7,"pc2":-0.35},{"pc1":2.75,"pc2":0.05},{"pc1":2.8,"pc2":-0.5},{"pc1":2.85,"pc2":-0.2},{"pc1":2.9,"pc2":-0.75},{"pc1":2.95,"pc2":-0.4},{"pc1":3,"pc2":-0.1},{"pc1":2.98,"pc2":-0.6},{"pc1":1.9,"pc2":0.1},{"pc1":2.2,"pc2":0.05},{"pc1":2.5,"pc2":0.15},{"pc1":1.78,"pc2":0.69},{"pc1":1.98,"pc2":0.67},{"pc1":2.67,"pc2":0.52},{"pc1":2.97,"pc2":0.5},{"pc1":2.03,"pc2":0.31},{"pc1":2.78,"pc2":0.27},{"pc1":3,"pc2":0.27},{"pc1":1.25,"pc2":0.32},{"pc1":2.11,"pc2":0.13},{"pc1":2.05,"pc2":-1.75},{"pc1":1.59,"pc2":-0.98},{"pc1":1.4,"pc2":-0.94},{"pc1":1.91,"pc2":-1.06},{"pc1":2.18,"pc2":-1.1},{"pc1":2.71,"pc2":-1.08},{"pc1":2.21,"pc2":-1.21},{"pc1":2.46,"pc2":-1.18},{"pc1":-0.49,"pc2":-0.35},{"pc1":-0.49,"pc2":-0.52},{"pc1":0.65,"pc2":-0.78},{"pc1":0.72,"pc2":-0.8},{"pc1":2.3,"pc2":-0.95},{"pc1":2.6,"pc2":-1},{"pc1":1.7,"pc2":-1},
  {"pc1":-0.3,"pc2":-0.45},{"pc1":-0.2,"pc2":-0.25},{"pc1":-0.12,"pc2":-0.45},{"pc1":-0.05,"pc2":-0.35},{"pc1":0.02,"pc2":-0.55},{"pc1":0.08,"pc2":-0.4},{"pc1":0.18,"pc2":-0.25},{"pc1":0.2,"pc2":-0.62},{"pc1":0.28,"pc2":-0.48},{"pc1":0.38,"pc2":-0.3},{"pc1":0.42,"pc2":-0.58},{"pc1":0.5,"pc2":-0.42},{"pc1":0.58,"pc2":-0.3},{"pc1":0.62,"pc2":-0.62},{"pc1":0.7,"pc2":-0.45},{"pc1":0.78,"pc2":-0.2},{"pc1":0.85,"pc2":-0.58},{"pc1":0.9,"pc2":-0.35},{"pc1":0.96,"pc2":-0.72},{"pc1":1,"pc2":-0.28},{"pc1":1.06,"pc2":-0.55},{"pc1":1.12,"pc2":-0.42},{"pc1":1.16,"pc2":-0.65},{"pc1":1.22,"pc2":-0.28},{"pc1":1.26,"pc2":-0.5},{"pc1":1.32,"pc2":-0.15},{"pc1":1.36,"pc2":-0.58},{"pc1":1.42,"pc2":-0.32},{"pc1":1.46,"pc2":-0.48},{"pc1":1.52,"pc2":-0.22},{"pc1":1.56,"pc2":-0.7},{"pc1":1.62,"pc2":-0.42},{"pc1":1.66,"pc2":-0.15},{"pc1":1.72,"pc2":-0.48},{"pc1":1.78,"pc2":-0.62},{"pc1":1.82,"pc2":-0.25},{"pc1":1.88,"pc2":-0.4},{"pc1":1.95,"pc2":-0.6},{"pc1":2.02,"pc2":-0.18},{"pc1":2.08,"pc2":-0.45},{"pc1":2.15,"pc2":-0.3},{"pc1":2.22,"pc2":-0.62},{"pc1":2.3,"pc2":-0.2},{"pc1":2.38,"pc2":-0.45},{"pc1":2.45,"pc2":-0.7},{"pc1":2.55,"pc2":-0.3},{"pc1":2.62,"pc2":-0.45},{"pc1":2.72,"pc2":-0.62},{"pc1":2.82,"pc2":-0.35},{"pc1":2.92,"pc2":-0.25}],
 "f2fb":[{"pc1":-0.47,"pc2":0.06},{"pc1":0.38,"pc2":0.05},{"pc1":0.25,"pc2":0.27},{"pc1":0.51,"pc2":0.11},{"pc1":-0.42,"pc2":-0.1},{"pc1":-0.45,"pc2":0.15},{"pc1":0.45,"pc2":-0.08},{"pc1":0.42,"pc2":0.18},{"pc1":0.3,"pc2":-0.22},{"pc1":-0.3,"pc2":0.22},{"pc1":-0.35,"pc2":-0.2},{"pc1":0.15,"pc2":0.28},{"pc1":0.48,"pc2":0},{"pc1":-0.5,"pc2":-0.02},{"pc1":0.35,"pc2":-0.15},{"pc1":0.2,"pc2":-0.25},{"pc1":-0.1,"pc2":0.3},{"pc1":0.55,"pc2":0.05},{"pc1":0.4,"pc2":0.25},{"pc1":0.45,"pc2":-0.18}],
 "f2wb":[{"pc1":-0.16,"pc2":0.18},{"pc1":-0.05,"pc2":0.19},{"pc1":0.06,"pc2":0.17},{"pc1":0.16,"pc2":0.18},{"pc1":-0.31,"pc2":0.12},{"pc1":-0.2,"pc2":0.13},{"pc1":-0.1,"pc2":0.11},{"pc1":0.01,"pc2":0.13},{"pc1":0.11,"pc2":0.12},{"pc1":0.21,"pc2":0.11},{"pc1":0.3,"pc2":0.13},{"pc1":-0.36,"pc2":0.06},{"pc1":-0.26,"pc2":0.07},{"pc1":-0.15,"pc2":0.05},{"pc1":-0.05,"pc2":0.07},{"pc1":0.05,"pc2":0.06},{"pc1":0.15,"pc2":0.07},{"pc1":0.26,"pc2":0.05},{"pc1":0.36,"pc2":0.06},{"pc1":-0.4,"pc2":0},{"pc1":-0.29,"pc2":0.01},{"pc1":-0.18,"pc2":-0.01},{"pc1":-0.08,"pc2":0.01},{"pc1":0.02,"pc2":0},{"pc1":0.12,"pc2":-0.01},{"pc1":0.22,"pc2":0.01},{"pc1":0.32,"pc2":0},{"pc1":0.41,"pc2":0.01},{"pc1":-0.36,"pc2":-0.06},{"pc1":-0.25,"pc2":-0.07},{"pc1":-0.15,"pc2":-0.05},{"pc1":-0.05,"pc2":-0.07},{"pc1":0.05,"pc2":-0.06},{"pc1":0.15,"pc2":-0.05},{"pc1":0.26,"pc2":-0.07},{"pc1":0.36,"pc2":-0.05},{"pc1":-0.3,"pc2":-0.12},{"pc1":-0.2,"pc2":-0.13},{"pc1":-0.1,"pc2":-0.11},{"pc1":0,"pc2":-0.12},{"pc1":0.1,"pc2":-0.13},{"pc1":0.2,"pc2":-0.11},{"pc1":0.3,"pc2":-0.12},{"pc1":-0.18,"pc2":-0.18},{"pc1":-0.08,"pc2":-0.19},{"pc1":0.02,"pc2":-0.18},{"pc1":0.12,"pc2":-0.19},{"pc1":0.22,"pc2":-0.17},{"pc1":-0.33,"pc2":0.09},{"pc1":0.33,"pc2":-0.09},{"pc1":-0.22,"pc2":-0.03},{"pc1":0.18,"pc2":0.03},{"pc1":-0.02,"pc2":0.15},{"pc1":0.07,"pc2":-0.15}]
},
"resolve":{"scale":{"x":"independent","y":"independent","color":"independent","theta":"independent","shape":"independent","xOffset":"independent"},"axis":{"x":"independent","y":"independent"},"legend":{"color":"independent","shape":"independent"}},
"layer":[
 {
  "data":{"values":[
   {"neuron":"D1","stim":"food","cat":"Activated","pct":80.3},{"neuron":"D1","stim":"food","cat":"Inhibited","pct":0.3},{"neuron":"D1","stim":"food","cat":"Untuned","pct":19.4},
   {"neuron":"D2","stim":"food","cat":"Activated","pct":73.9},{"neuron":"D2","stim":"food","cat":"Inhibited","pct":1.4},{"neuron":"D2","stim":"food","cat":"Untuned","pct":24.6},
   {"neuron":"D1","stim":"water","cat":"Activated","pct":79.1},{"neuron":"D1","stim":"water","cat":"Inhibited","pct":0.16},{"neuron":"D1","stim":"water","cat":"Untuned","pct":20.7},
   {"neuron":"D2","stim":"water","cat":"Activated","pct":63.1},{"neuron":"D2","stim":"water","cat":"Inhibited","pct":1.5},{"neuron":"D2","stim":"water","cat":"Untuned","pct":35.4}]},
  "transform":[{"stack":"pct","groupby":["neuron","stim"],"sort":[{"field":"cat","order":"ascending"}],"offset":"normalize","as":["start","end"]}],
  "encoding":{
   "x":{"field":"neuron","type":"nominal","scale":{"type":"point","domain":["D1","D2"],"range":[161.5,395.3],"padding":0},"axis":null},
   "y":{"field":"stim","type":"nominal","scale":{"type":"point","domain":["food","water"],"range":[80.5,252],"padding":0},"axis":null}},
  "layer":[
   {"transform":[{"filter":"datum.stim === 'food'"}],"mark":{"type":"arc","outerRadius":57,"stroke":"#231F20","strokeWidth":0.8},
    "encoding":{"theta":{"field":"start","type":"quantitative","stack":null,"scale":{"domain":[0,1]}},"theta2":{"field":"end"},
     "color":{"field":"cat","type":"nominal","scale":{"domain":["Activated","Inhibited","Untuned"],"range":["#FDB927","#FDE7B5","#D4D4D4"]},"legend":null}}},
   {"transform":[{"filter":"datum.stim === 'water'"}],"mark":{"type":"arc","outerRadius":57,"stroke":"#231F20","strokeWidth":0.8},
    "encoding":{"theta":{"field":"start","type":"quantitative","stack":null,"scale":{"domain":[0,1]}},"theta2":{"field":"end"},
     "color":{"field":"cat","type":"nominal","scale":{"domain":["Activated","Inhibited","Untuned"],"range":["#41B0E4","#A9DDF3","#D4D4D4"]},"legend":null}}},
   {"data":{"values":[{"neuron":"D1"},{"neuron":"D2"}]},"mark":{"type":"text","fontSize":17,"dy":87.5,"dx":-1,"baseline":"middle"},
    "encoding":{"y":{"datum":"food"},"text":{"field":"neuron"}}}
  ],
  "resolve":{"scale":{"color":"independent","theta":"independent"}}
 },
 {
  "data":{"values":[
   {"neuron":"D1","cat":"Untuned","val":"19.4 ± 4.9%"},{"neuron":"D1","cat":"Inhibited","val":"0.3 ± 0.3%"},{"neuron":"D1","cat":"Activated","val":"80.3 ± 4.9%"},
   {"neuron":"D2","cat":"Untuned","val":"24.6 ± 9.2%"},{"neuron":"D2","cat":"Inhibited","val":"1.4 ± 1.2%"},{"neuron":"D2","cat":"Activated","val":"73.9 ± 9.5%"}]},
  "encoding":{
   "x":{"field":"neuron","type":"nominal","scale":{"type":"point","domain":["D1","D2"],"range":[87.5,321.7],"padding":0},"axis":null},
   "y":{"field":"cat","type":"nominal","scale":{"type":"point","domain":["Untuned","Inhibited","Activated"],"range":[35.5,115.5],"padding":0},"axis":null}},
  "layer":[
   {"mark":{"type":"text","align":"right","baseline":"middle","dy":-8,"fontSize":12.5},"encoding":{"text":{"field":"cat"}}},
   {"mark":{"type":"text","align":"right","baseline":"middle","dy":8,"dx":-6,"fontSize":12.5},"encoding":{"text":{"field":"val"}}},
   {"mark":{"type":"rule","xOffset":5,"x2Offset":24,"yOffset":-4,"color":"#333333","strokeWidth":0.8},"encoding":{"x2":{"field":"neuron"}}},
   {"data":{"values":[{"neuron":"D1","letter":"A"}]},"mark":{"type":"text","fontSize":22,"dx":-77.5,"dy":-18,"align":"center","baseline":"middle"},"encoding":{"y":{"datum":"Untuned"},"text":{"field":"letter"}}},
   {"data":{"values":[{"neuron":"D2","letter":"B"}]},"mark":{"type":"text","fontSize":22,"dx":-68,"dy":-19.5,"align":"center","baseline":"middle"},"encoding":{"y":{"datum":"Untuned"},"text":{"field":"letter"}}}
  ]
 },
 {
  "data":{"values":[
   {"neuron":"D1","cat":"Untuned","val":"20.7 ± 3.7%"},{"neuron":"D1","cat":"Inhibited","val":"0.16 ± 0.16%"},{"neuron":"D1","cat":"Activated","val":"79.1 ± 3.7%"},
   {"neuron":"D2","cat":"Untuned","val":"35.4 ± 10.7%"},{"neuron":"D2","cat":"Inhibited","val":"1.5 ± 0.6%"},{"neuron":"D2","cat":"Activated","val":"63.1 ± 11.3%"}]},
  "encoding":{
   "x":{"field":"neuron","type":"nominal","scale":{"type":"point","domain":["D1","D2"],"range":[87.5,321.7],"padding":0},"axis":null},
   "y":{"field":"cat","type":"nominal","scale":{"type":"point","domain":["Untuned","Inhibited","Activated"],"range":[212,292],"padding":0},"axis":null}},
  "layer":[
   {"mark":{"type":"text","align":"right","baseline":"middle","dy":-8,"fontSize":12.5},"encoding":{"text":{"field":"cat"}}},
   {"mark":{"type":"text","align":"right","baseline":"middle","dy":8,"dx":-6,"fontSize":12.5},"encoding":{"text":{"field":"val"}}},
   {"mark":{"type":"rule","xOffset":5,"x2Offset":24,"yOffset":-4,"color":"#333333","strokeWidth":0.8},"encoding":{"x2":{"field":"neuron"}}}
  ]
 },
 {
  "data":{"values":[
   {"cond":"activated by both vs. activated by food","mean":0.873,"lo":0.86,"hi":0.886},
   {"cond":"activated by both vs. activated by water","mean":0.88,"lo":0.865,"hi":0.895}]},
  "encoding":{"x":{"field":"cond","type":"nominal","scale":{"domain":["activated by both vs. activated by food","activated by both vs. activated by water"],"range":[534.5,635],"paddingInner":0.356,"paddingOuter":0.29},
    "axis":{"orient":"bottom","offset":-748,"title":null,"labelAngle":-45,"labelFontSize":12.5,"tickSize":8,"labelPadding":3,"labelLineHeight":13,"labelOverlap":false,"labelBound":false,
     "labelExpr":"[slice(datum.label, 0, indexof(datum.label, 'vs.') + 3), slice(datum.label, indexof(datum.label, 'vs.') + 4)]"}}},
  "layer":[
   {"mark":{"type":"bar","stroke":"#231F20","strokeWidth":1},
    "encoding":{"y":{"field":"mean","type":"quantitative","title":null,"scale":{"domain":[0,1],"range":[189,83.3],"nice":false,"zero":false},
      "axis":{"orient":"left","offset":-535.5,"title":null,"values":[0,0.2,0.4,0.6,0.8,1],"labelExpr":"datum.value === 0 ? '0' : datum.value === 1 ? '1' : ''","tickSize":4,"labelPadding":3}},
     "color":{"field":"cond","type":"nominal","scale":{"domain":["activated by both vs. activated by food","activated by both vs. activated by water"],"range":["#FDB927","#41B0E4"]},"legend":null}}},
   {"mark":{"type":"rule","color":"#231F20","strokeWidth":1.2},"encoding":{"y":{"field":"lo","type":"quantitative","title":null},"y2":{"field":"hi"}}},
   {"mark":{"type":"tick","color":"#231F20","size":12,"thickness":1.2},"encoding":{"y":{"field":"lo","type":"quantitative","title":null}}},
   {"mark":{"type":"tick","color":"#231F20","size":12,"thickness":1.2},"encoding":{"y":{"field":"hi","type":"quantitative","title":null}}},
   {"data":{"values":[
     {"cond":"activated by both vs. activated by food","j":-0.85,"v":0.915},{"cond":"activated by both vs. activated by food","j":0,"v":0.89},{"cond":"activated by both vs. activated by food","j":0.78,"v":0.915},{"cond":"activated by both vs. activated by food","j":-0.85,"v":0.849},{"cond":"activated by both vs. activated by food","j":0.78,"v":0.849},
     {"cond":"activated by both vs. activated by water","j":-0.9,"v":0.85},{"cond":"activated by both vs. activated by water","j":-0.43,"v":0.93},{"cond":"activated by both vs. activated by water","j":0,"v":0.883},{"cond":"activated by both vs. activated by water","j":0.41,"v":0.93},{"cond":"activated by both vs. activated by water","j":0.83,"v":0.85}]},
    "mark":{"type":"point","filled":true,"fill":"white","stroke":"#231F20","strokeWidth":1.1,"size":30,"opacity":1},
    "encoding":{"y":{"field":"v","type":"quantitative","title":null},"xOffset":{"field":"j","type":"quantitative","scale":{"domain":[-1,1]}},
     "shape":{"field":"cond","type":"nominal","scale":{"domain":["activated by both vs. activated by food","activated by both vs. activated by water"],"range":["circle","square"]},"legend":null}}},
   {"data":{"values":[{"t":"D1"}]},"mark":{"type":"text","fontSize":17,"dx":22.5,"baseline":"middle"},"encoding":{"x":{"datum":"activated by both vs. activated by food"},"y":{"datum":1.154},"text":{"field":"t"}}},
   {"data":{"values":[{"t":"Fraction of D1/D2 neurons activated by"}]},"mark":{"type":"text","fontSize":12,"dx":27,"baseline":"middle"},"encoding":{"x":{"datum":"activated by both vs. activated by water"},"y":{"datum":1.535},"text":{"field":"t"}}},
   {"data":{"values":[{"t":"both food and water vs. either food or water"}]},"mark":{"type":"text","fontSize":12,"dx":27,"baseline":"middle"},"encoding":{"x":{"datum":"activated by both vs. activated by water"},"y":{"datum":1.38},"text":{"field":"t"}}},
   {"data":{"values":[{"t":"C"}]},"mark":{"type":"text","fontSize":22,"dx":-59.7,"baseline":"middle"},"encoding":{"x":{"datum":"activated by both vs. activated by food"},"y":{"datum":1.63},"text":{"field":"t"}}}
  ]
 },
 {
  "data":{"values":[
   {"cond":"activated by both vs. activated by food","mean":0.707,"lo":0.612,"hi":0.81},
   {"cond":"activated by both vs. activated by water","mean":0.82,"lo":0.769,"hi":0.877}]},
  "encoding":{"x":{"field":"cond","type":"nominal","scale":{"domain":["activated by both vs. activated by food","activated by both vs. activated by water"],"range":[673,778],"paddingInner":0.356,"paddingOuter":0.29},
    "axis":{"orient":"bottom","offset":-748,"title":null,"labelAngle":-45,"labelFontSize":12.5,"tickSize":8,"labelPadding":3,"labelLineHeight":13,"labelOverlap":false,"labelBound":false,
     "labelExpr":"[slice(datum.label, 0, indexof(datum.label, 'vs.') + 3), slice(datum.label, indexof(datum.label, 'vs.') + 4)]"}}},
  "layer":[
   {"mark":{"type":"bar","stroke":"#231F20","strokeWidth":1},
    "encoding":{"y":{"field":"mean","type":"quantitative","title":null,"scale":{"domain":[0,1],"range":[189,83.3],"nice":false,"zero":false},
      "axis":{"orient":"left","offset":-673,"title":null,"values":[0,0.2,0.4,0.6,0.8,1],"labelExpr":"datum.value === 0 ? '0' : datum.value === 1 ? '1' : ''","tickSize":4,"labelPadding":3}},
     "color":{"field":"cond","type":"nominal","scale":{"domain":["activated by both vs. activated by food","activated by both vs. activated by water"],"range":["#FDB927","#41B0E4"]},"legend":null}}},
   {"mark":{"type":"rule","color":"#231F20","strokeWidth":1.2},"encoding":{"y":{"field":"lo","type":"quantitative","title":null},"y2":{"field":"hi"}}},
   {"mark":{"type":"tick","color":"#231F20","size":12,"thickness":1.2},"encoding":{"y":{"field":"lo","type":"quantitative","title":null}}},
   {"mark":{"type":"tick","color":"#231F20","size":12,"thickness":1.2},"encoding":{"y":{"field":"hi","type":"quantitative","title":null}}},
   {"data":{"values":[
     {"cond":"activated by both vs. activated by food","j":0,"v":0.937},{"cond":"activated by both vs. activated by food","j":0,"v":0.864},{"cond":"activated by both vs. activated by food","j":0,"v":0.731},{"cond":"activated by both vs. activated by food","j":0,"v":0.669},{"cond":"activated by both vs. activated by food","j":0,"v":0.36},
     {"cond":"activated by both vs. activated by water","j":0,"v":0.968},{"cond":"activated by both vs. activated by water","j":0,"v":0.915},{"cond":"activated by both vs. activated by water","j":0,"v":0.851},{"cond":"activated by both vs. activated by water","j":-0.43,"v":0.684},{"cond":"activated by both vs. activated by water","j":0.26,"v":0.71}]},
    "mark":{"type":"point","filled":true,"fill":"white","stroke":"#231F20","strokeWidth":1.1,"size":30,"opacity":1},
    "encoding":{"y":{"field":"v","type":"quantitative","title":null},"xOffset":{"field":"j","type":"quantitative","scale":{"domain":[-1,1]}},
     "shape":{"field":"cond","type":"nominal","scale":{"domain":["activated by both vs. activated by food","activated by both vs. activated by water"],"range":["circle","square"]},"legend":null}}},
   {"data":{"values":[{"t":"D2"}]},"mark":{"type":"text","fontSize":17,"dx":21,"baseline":"middle"},"encoding":{"x":{"datum":"activated by both vs. activated by food"},"y":{"datum":1.154},"text":{"field":"t"}}}
  ]
 },
 {
  "layer":[
   {"data":{"name":"traces"},"transform":[{"filter":"datum.neuron === 'D1'"}],"mark":{"type":"line","strokeWidth":1.8,"interpolate":"monotone"},
    "encoding":{"x":{"field":"t","type":"quantitative","scale":{"domain":[-5,10],"range":[11,236],"nice":false,"zero":false},"axis":null},
     "y":{"field":"z","type":"quantitative","scale":{"domain":[0,1],"range":[438,421],"nice":false,"zero":false},"axis":null},
     "color":{"field":"stim","type":"nominal","scale":{"domain":["food","water"],"range":["#FDB927","#41B0E4"]},"legend":null}}},
   {"data":{"values":[{"a":1}]},"mark":{"type":"rule","strokeDash":[2,2],"color":"#231F20","strokeWidth":1},"encoding":{"x":{"datum":0,"type":"quantitative"},"y":{"datum":3.88,"type":"quantitative"},"y2":{"datum":-6.76}}},
   {"data":{"values":[{"a":1}]},"mark":{"type":"rule","color":"#231F20","strokeWidth":1.2},"encoding":{"x":{"datum":0,"type":"quantitative"},"y":{"datum":3.88,"type":"quantitative"},"y2":{"datum":4.88}}},
   {"data":{"values":[{"a":1}]},"mark":{"type":"rule","color":"#231F20","strokeWidth":1.2},"encoding":{"x":{"datum":0,"type":"quantitative"},"x2":{"datum":2},"y":{"datum":3.88,"type":"quantitative"}}},
   {"data":{"values":[{"t":"ΔF/F (z-score)"}]},"mark":{"type":"text","align":"left","baseline":"middle","fontSize":12.5},"encoding":{"x":{"datum":-1.53,"type":"quantitative"},"y":{"datum":5.35,"type":"quantitative"},"text":{"field":"t"}}},
   {"data":{"values":[{"t":"1σ"}]},"mark":{"type":"text","align":"right","baseline":"middle","fontSize":12.5},"encoding":{"x":{"datum":-0.4,"type":"quantitative"},"y":{"datum":4.47,"type":"quantitative"},"text":{"field":"t"}}},
   {"data":{"values":[{"t":"2s"}]},"mark":{"type":"text","align":"center","baseline":"middle","fontSize":12.5},"encoding":{"x":{"datum":1,"type":"quantitative"},"y":{"datum":3.3,"type":"quantitative"},"text":{"field":"t"}}},
   {"data":{"values":[{"t":"D1"}]},"mark":{"type":"text","align":"left","baseline":"middle","fontSize":17},"encoding":{"x":{"datum":-5.07,"type":"quantitative"},"y":{"datum":0.88,"type":"quantitative"},"text":{"field":"t"}}},
   {"data":{"values":[{"t":"D"}]},"mark":{"type":"text","align":"center","baseline":"middle","fontSize":22},"encoding":{"x":{"datum":-4.97,"type":"quantitative"},"y":{"datum":5.35,"type":"quantitative"},"text":{"field":"t"}}}
  ]
 },
 {
  "layer":[
   {"data":{"name":"traces"},"transform":[{"filter":"datum.neuron === 'D2'"}],"mark":{"type":"line","strokeWidth":1.8,"interpolate":"monotone"},
    "encoding":{"x":{"field":"t","type":"quantitative","scale":{"domain":[-5,10],"range":[11,236],"nice":false,"zero":false},"axis":null},
     "y":{"field":"z","type":"quantitative","scale":{"domain":[0,1],"range":[518.3,501.3],"nice":false,"zero":false},"axis":null},
     "color":{"field":"stim","type":"nominal","scale":{"domain":["food","water"],"range":["#FDB927","#41B0E4"]},"legend":null}}},
   {"data":{"values":[{"a":1}]},"mark":{"type":"rule","strokeDash":[2,2],"color":"#231F20","strokeWidth":1},"encoding":{"x":{"datum":0,"type":"quantitative"},"x2":{"datum":9.8},"y":{"datum":-0.28,"type":"quantitative"}}},
   {"data":{"values":[{"a":1}]},"mark":{"type":"point","shape":"triangle-right","filled":true,"color":"#231F20","size":22,"opacity":1},"encoding":{"x":{"datum":9.9,"type":"quantitative"},"y":{"datum":-0.28,"type":"quantitative"}}},
   {"data":{"values":[{"t":"Food present"}]},"mark":{"type":"text","align":"left","baseline":"middle","fontSize":12.5,"color":"#FDB927"},"encoding":{"x":{"datum":0.27,"type":"quantitative"},"y":{"datum":-0.86,"type":"quantitative"},"text":{"field":"t"}}},
   {"data":{"values":[{"t":"Water gel present"}]},"mark":{"type":"text","align":"left","baseline":"middle","fontSize":12.5,"color":"#41B0E4"},"encoding":{"x":{"datum":0.27,"type":"quantitative"},"y":{"datum":-1.8,"type":"quantitative"},"text":{"field":"t"}}},
   {"data":{"values":[{"t":"D2"}]},"mark":{"type":"text","align":"left","baseline":"middle","fontSize":17},"encoding":{"x":{"datum":-5.07,"type":"quantitative"},"y":{"datum":0.78,"type":"quantitative"},"text":{"field":"t"}}}
  ]
 },
 {
  "data":{"values":[
   {"cond":"Food vs. food","mean":0.52,"lo":0.432,"hi":0.618},
   {"cond":"Water vs. water","mean":0.528,"lo":0.49,"hi":0.575},
   {"cond":"Food vs. water","mean":0.333,"lo":0.266,"hi":0.414}]},
  "encoding":{"x":{"field":"cond","type":"nominal","scale":{"domain":["Food vs. food","Water vs. water","Food vs. water"],"range":[318,440],"paddingInner":0.375,"paddingOuter":0.37},
    "axis":{"orient":"bottom","offset":-411.3,"title":null,"labelAngle":-45,"labelFontSize":13,"tickSize":9,"labelPadding":3,"labelOverlap":false,"labelBound":false}}},
  "layer":[
   {"mark":{"type":"bar","stroke":"#231F20","strokeWidth":1},
    "encoding":{"y":{"field":"mean","type":"quantitative","title":null,"scale":{"domain":[0,0.8],"range":[525.7,404],"nice":false,"zero":false},
      "axis":{"orient":"left","offset":-318,"title":null,"values":[0,0.2,0.4,0.6,0.8],"labelExpr":"datum.value === 0 || datum.value === 0.8 ? format(datum.value, '.1f') : ''","tickSize":5,"labelPadding":4}},
     "color":{"field":"cond","type":"nominal","scale":{"domain":["Food vs. food","Water vs. water","Food vs. water"],"range":["#FDB927","#41B0E4","#FFFFFF"]},"legend":null}}},
   {"mark":{"type":"rule","color":"#231F20","strokeWidth":1.2},"encoding":{"y":{"field":"lo","type":"quantitative","title":null},"y2":{"field":"hi"}}},
   {"mark":{"type":"tick","color":"#231F20","size":12,"thickness":1.2},"encoding":{"y":{"field":"lo","type":"quantitative","title":null}}},
   {"mark":{"type":"tick","color":"#231F20","size":12,"thickness":1.2},"encoding":{"y":{"field":"hi","type":"quantitative","title":null}}},
   {"data":{"values":[
     {"cond":"Food vs. food","j":0,"v":0.778},{"cond":"Food vs. food","j":0,"v":0.706},{"cond":"Food vs. food","j":-0.47,"v":0.42},{"cond":"Food vs. food","j":0.5,"v":0.404},{"cond":"Food vs. food","j":0,"v":0.322},
     {"cond":"Water vs. water","j":-0.47,"v":0.634},{"cond":"Water vs. water","j":0.53,"v":0.618},{"cond":"Water vs. water","j":0,"v":0.537},{"cond":"Water vs. water","j":0,"v":0.458},{"cond":"Water vs. water","j":0,"v":0.42},
     {"cond":"Food vs. water","j":0,"v":0.542},{"cond":"Food vs. water","j":0,"v":0.436},{"cond":"Food vs. water","j":0,"v":0.36},{"cond":"Food vs. water","j":0,"v":0.246},{"cond":"Food vs. water","j":0,"v":0.121}]},
    "mark":{"type":"point","filled":true,"fill":"white","stroke":"#231F20","strokeWidth":1.1,"size":30,"opacity":1},
    "encoding":{"y":{"field":"v","type":"quantitative","title":null},"xOffset":{"field":"j","type":"quantitative","scale":{"domain":[-1,1]}},
     "shape":{"field":"cond","type":"nominal","scale":{"domain":["Food vs. food","Water vs. water","Food vs. water"],"range":["circle","square","triangle-up"]},"legend":null}}},
   {"data":{"values":[{"t":"all NS"}]},"mark":{"type":"text","fontSize":12.5,"dx":1,"baseline":"middle"},"encoding":{"x":{"datum":"Food vs. water"},"y":{"datum":0.76},"text":{"field":"t"}}},
   {"data":{"values":[{"t":"D1"}]},"mark":{"type":"text","fontSize":17,"baseline":"middle"},"encoding":{"x":{"datum":"Water vs. water"},"y":{"datum":1.024},"text":{"field":"t"}}},
   {"data":{"values":[{"t":"Pearson’s corr. coeff. of D1/D2 neural responses"}]},"mark":{"type":"text","fontSize":12,"dx":41,"baseline":"middle"},"encoding":{"x":{"datum":"Food vs. water"},"y":{"datum":1.168},"text":{"field":"t"}}},
   {"data":{"values":[{"t":"E"}]},"mark":{"type":"text","fontSize":22,"dx":-61,"baseline":"middle"},"encoding":{"x":{"datum":"Food vs. food"},"y":{"datum":1.18},"text":{"field":"t"}}}
  ]
 },
 {
  "data":{"values":[
   {"cond":"Food vs. food","mean":0.454,"lo":0.388,"hi":0.524},
   {"cond":"Water vs. water","mean":0.366,"lo":0.322,"hi":0.425},
   {"cond":"Food vs. water","mean":0.147,"lo":0.121,"hi":0.187}]},
  "encoding":{"x":{"field":"cond","type":"nominal","scale":{"domain":["Food vs. food","Water vs. water","Food vs. water"],"range":[492.7,614.3],"paddingInner":0.375,"paddingOuter":0.37},
    "axis":{"orient":"bottom","offset":-411.3,"title":null,"labelAngle":-45,"labelFontSize":13,"tickSize":9,"labelPadding":3,"labelOverlap":false,"labelBound":false}}},
  "layer":[
   {"mark":{"type":"bar","stroke":"#231F20","strokeWidth":1},
    "encoding":{"y":{"field":"mean","type":"quantitative","title":null,"scale":{"domain":[0,0.8],"range":[525.7,404],"nice":false,"zero":false},
      "axis":{"orient":"left","offset":-492.7,"title":null,"values":[0,0.2,0.4,0.6,0.8],"labelExpr":"datum.value === 0 || datum.value === 0.8 ? format(datum.value, '.1f') : ''","tickSize":5,"labelPadding":4}},
     "color":{"field":"cond","type":"nominal","scale":{"domain":["Food vs. food","Water vs. water","Food vs. water"],"range":["#FDB927","#41B0E4","#FFFFFF"]},"legend":null}}},
   {"mark":{"type":"rule","color":"#231F20","strokeWidth":1.2},"encoding":{"y":{"field":"lo","type":"quantitative","title":null},"y2":{"field":"hi"}}},
   {"mark":{"type":"tick","color":"#231F20","size":12,"thickness":1.2},"encoding":{"y":{"field":"lo","type":"quantitative","title":null}}},
   {"mark":{"type":"tick","color":"#231F20","size":12,"thickness":1.2},"encoding":{"y":{"field":"hi","type":"quantitative","title":null}}},
   {"data":{"values":[
     {"cond":"Food vs. food","j":-0.49,"v":0.618},{"cond":"Food vs. food","j":0.47,"v":0.589},{"cond":"Food vs. food","j":0,"v":0.471},{"cond":"Food vs. food","j":0.47,"v":0.318},{"cond":"Food vs. food","j":-0.49,"v":0.287},
     {"cond":"Water vs. water","j":0,"v":0.498},{"cond":"Water vs. water","j":-0.4,"v":0.417},{"cond":"Water vs. water","j":0.45,"v":0.417},{"cond":"Water vs. water","j":0,"v":0.305},{"cond":"Water vs. water","j":0,"v":0.219},
     {"cond":"Food vs. water","j":-0.79,"v":0.2},{"cond":"Food vs. water","j":0,"v":0.18},{"cond":"Food vs. water","j":0.79,"v":0.2},{"cond":"Food vs. water","j":0,"v":0.14},{"cond":"Food vs. water","j":0,"v":0.042}]},
    "mark":{"type":"point","filled":true,"fill":"white","stroke":"#231F20","strokeWidth":1.1,"size":30,"opacity":1},
    "encoding":{"y":{"field":"v","type":"quantitative","title":null},"xOffset":{"field":"j","type":"quantitative","scale":{"domain":[-1,1]}},
     "shape":{"field":"cond","type":"nominal","scale":{"domain":["Food vs. food","Water vs. water","Food vs. water"],"range":["circle","square","triangle-up"]},"legend":null}}},
   {"data":{"values":[{"a":1}]},"mark":{"type":"rule","color":"#555555","strokeWidth":1.2,"x2Offset":8.5},"encoding":{"x":{"datum":"Food vs. food"},"x2":{"datum":"Food vs. water"},"y":{"datum":0.84}}},
   {"data":{"values":[{"a":1}]},"mark":{"type":"rule","color":"#555555","strokeWidth":1.2,"x2Offset":2.5},"encoding":{"x":{"datum":"Food vs. food"},"x2":{"datum":"Water vs. water"},"y":{"datum":0.715}}},
   {"data":{"values":[{"a":1}]},"mark":{"type":"rule","color":"#555555","strokeWidth":1.2,"xOffset":8.5,"x2Offset":8.5},"encoding":{"x":{"datum":"Water vs. water"},"x2":{"datum":"Food vs. water"},"y":{"datum":0.715}}},
   {"data":{"values":[{"t":"***"}]},"mark":{"type":"text","fontSize":12,"dx":5,"baseline":"middle"},"encoding":{"x":{"datum":"Water vs. water"},"y":{"datum":0.862},"text":{"field":"t"}}},
   {"data":{"values":[{"t":"NS"}]},"mark":{"type":"text","fontSize":12.5,"dx":17,"baseline":"middle"},"encoding":{"x":{"datum":"Food vs. food"},"y":{"datum":0.767},"text":{"field":"t"}}},
   {"data":{"values":[{"t":"**"}]},"mark":{"type":"text","fontSize":12,"dx":-9,"baseline":"middle"},"encoding":{"x":{"datum":"Food vs. water"},"y":{"datum":0.737},"text":{"field":"t"}}},
   {"data":{"values":[{"t":"D2"}]},"mark":{"type":"text","fontSize":17,"dx":1.5,"baseline":"middle"},"encoding":{"x":{"datum":"Water vs. water"},"y":{"datum":1.024},"text":{"field":"t"}}}
  ]
 },
 {
  "layer":[
   {"data":{"name":"f1food"},"mark":{"type":"square","size":8,"color":"#FCC02E","opacity":1},
    "encoding":{"x":{"field":"pc1","type":"quantitative","scale":{"domain":[-3,3],"range":[11,311],"nice":false,"zero":false},
      "axis":{"orient":"bottom","offset":-156.3,"values":[-3,-2,-1,1,2,3],"labels":false,"tickSize":3,"title":null,"domainColor":"#4D4D4D","tickColor":"#4D4D4D"}},
     "y":{"field":"pc2","type":"quantitative","scale":{"domain":[-2.5,2.5],"range":[935.7,625.7],"nice":false,"zero":false},
      "axis":{"orient":"left","offset":-161,"values":[-2,-1,1,2],"labels":false,"tickSize":3,"title":null,"domainColor":"#4D4D4D","tickColor":"#4D4D4D"}}}},
   {"data":{"name":"f1water"},"mark":{"type":"square","size":8,"color":"#4DB5E6","opacity":1},"encoding":{"x":{"field":"pc1","type":"quantitative","title":null},"y":{"field":"pc2","type":"quantitative","title":null}}},
   {"data":{"name":"f1fb"},"mark":{"type":"square","size":8,"color":"#8CC63F","opacity":1},"encoding":{"x":{"field":"pc1","type":"quantitative","title":null},"y":{"field":"pc2","type":"quantitative","title":null}}},
   {"data":{"name":"f1wb"},"mark":{"type":"square","size":8,"color":"#7F5DA8","opacity":1},"encoding":{"x":{"field":"pc1","type":"quantitative","title":null},"y":{"field":"pc2","type":"quantitative","title":null}}},
   {"data":{"values":[{"t":"Principal\ncomponent 1\n(a.u.)"}]},"mark":{"type":"text","align":"left","baseline":"top","fontSize":11.5,"lineBreak":"\n","lineHeight":12.5},"encoding":{"x":{"datum":-3,"type":"quantitative"},"y":{"datum":0.67,"type":"quantitative"},"text":{"field":"t"}}},
   {"data":{"values":[{"t":"Principal\ncomponent 2\n(a.u.)"}]},"mark":{"type":"text","align":"left","baseline":"top","angle":270,"fontSize":11.5,"lineBreak":"\n","lineHeight":11.5},"encoding":{"x":{"datum":-0.82,"type":"quantitative"},"y":{"datum":-2.47,"type":"quantitative"},"text":{"field":"t"}}},
   {"data":{"values":[{"t":"D1"}]},"mark":{"type":"text","fontSize":17,"baseline":"middle"},"encoding":{"x":{"datum":-2.22,"type":"quantitative"},"y":{"datum":1.74,"type":"quantitative"},"text":{"field":"t"}}},
   {"data":{"values":[{"t":"F"}]},"mark":{"type":"text","fontSize":22,"baseline":"middle"},"encoding":{"x":{"datum":-3.07,"type":"quantitative"},"y":{"datum":2.29,"type":"quantitative"},"text":{"field":"t"}}},
   {"data":{"values":[{"t":"Food baseline"}]},"mark":{"type":"text","align":"left","baseline":"middle","fontSize":12.5,"color":"#8CC63F"},"encoding":{"x":{"datum":-3.08,"type":"quantitative"},"y":{"datum":-1.6,"type":"quantitative"},"text":{"field":"t"}}},
   {"data":{"values":[{"t":"Water baseline"}]},"mark":{"type":"text","align":"left","baseline":"middle","fontSize":12.5,"color":"#7F5DA8"},"encoding":{"x":{"datum":-3.08,"type":"quantitative"},"y":{"datum":-1.86,"type":"quantitative"},"text":{"field":"t"}}},
   {"data":{"values":[{"t":"Food present"}]},"mark":{"type":"text","align":"left","baseline":"middle","fontSize":12.5,"color":"#FCC02E"},"encoding":{"x":{"datum":-3.08,"type":"quantitative"},"y":{"datum":-2.12,"type":"quantitative"},"text":{"field":"t"}}},
   {"data":{"values":[{"t":"Water present"}]},"mark":{"type":"text","align":"left","baseline":"middle","fontSize":12.5,"color":"#4DB5E6"},"encoding":{"x":{"datum":-3.08,"type":"quantitative"},"y":{"datum":-2.38,"type":"quantitative"},"text":{"field":"t"}}}
  ]
 },
 {
  "layer":[
   {"data":{"name":"f2food"},"mark":{"type":"square","size":8,"color":"#FCC02E","opacity":1},
    "encoding":{"x":{"field":"pc1","type":"quantitative","scale":{"domain":[-3,3],"range":[334,634],"nice":false,"zero":false},
      "axis":{"orient":"bottom","offset":-156.3,"values":[-3,-2,-1,1,2,3],"labels":false,"tickSize":3,"title":null,"domainColor":"#4D4D4D","tickColor":"#4D4D4D"}},
     "y":{"field":"pc2","type":"quantitative","scale":{"domain":[-2.5,2.5],"range":[935.7,625.7],"nice":false,"zero":false},
      "axis":{"orient":"left","offset":-484,"values":[-2,-1,1,2],"labels":false,"tickSize":3,"title":null,"domainColor":"#4D4D4D","tickColor":"#4D4D4D"}}}},
   {"data":{"name":"f2water"},"mark":{"type":"square","size":8,"color":"#4DB5E6","opacity":1},"encoding":{"x":{"field":"pc1","type":"quantitative","title":null},"y":{"field":"pc2","type":"quantitative","title":null}}},
   {"data":{"name":"f2fb"},"mark":{"type":"square","size":9,"color":"#8CC63F","opacity":1},"encoding":{"x":{"field":"pc1","type":"quantitative","title":null},"y":{"field":"pc2","type":"quantitative","title":null}}},
   {"data":{"name":"f2wb"},"mark":{"type":"square","size":18,"color":"#7F5DA8","opacity":1},"encoding":{"x":{"field":"pc1","type":"quantitative","title":null},"y":{"field":"pc2","type":"quantitative","title":null}}},
   {"data":{"values":[{"t":"Principal\ncomponent 1\n(a.u.)"}]},"mark":{"type":"text","align":"left","baseline":"top","fontSize":11.5,"lineBreak":"\n","lineHeight":12.5},"encoding":{"x":{"datum":-3,"type":"quantitative"},"y":{"datum":0.67,"type":"quantitative"},"text":{"field":"t"}}},
   {"data":{"values":[{"t":"Principal\ncomponent 2\n(a.u.)"}]},"mark":{"type":"text","align":"left","baseline":"top","angle":270,"fontSize":11.5,"lineBreak":"\n","lineHeight":11.5},"encoding":{"x":{"datum":-0.78,"type":"quantitative"},"y":{"datum":-2.47,"type":"quantitative"},"text":{"field":"t"}}},
   {"data":{"values":[{"t":"D2"}]},"mark":{"type":"text","fontSize":17,"baseline":"middle"},"encoding":{"x":{"datum":-2.3,"type":"quantitative"},"y":{"datum":1.74,"type":"quantitative"},"text":{"field":"t"}}}
  ]
 }
]
}
